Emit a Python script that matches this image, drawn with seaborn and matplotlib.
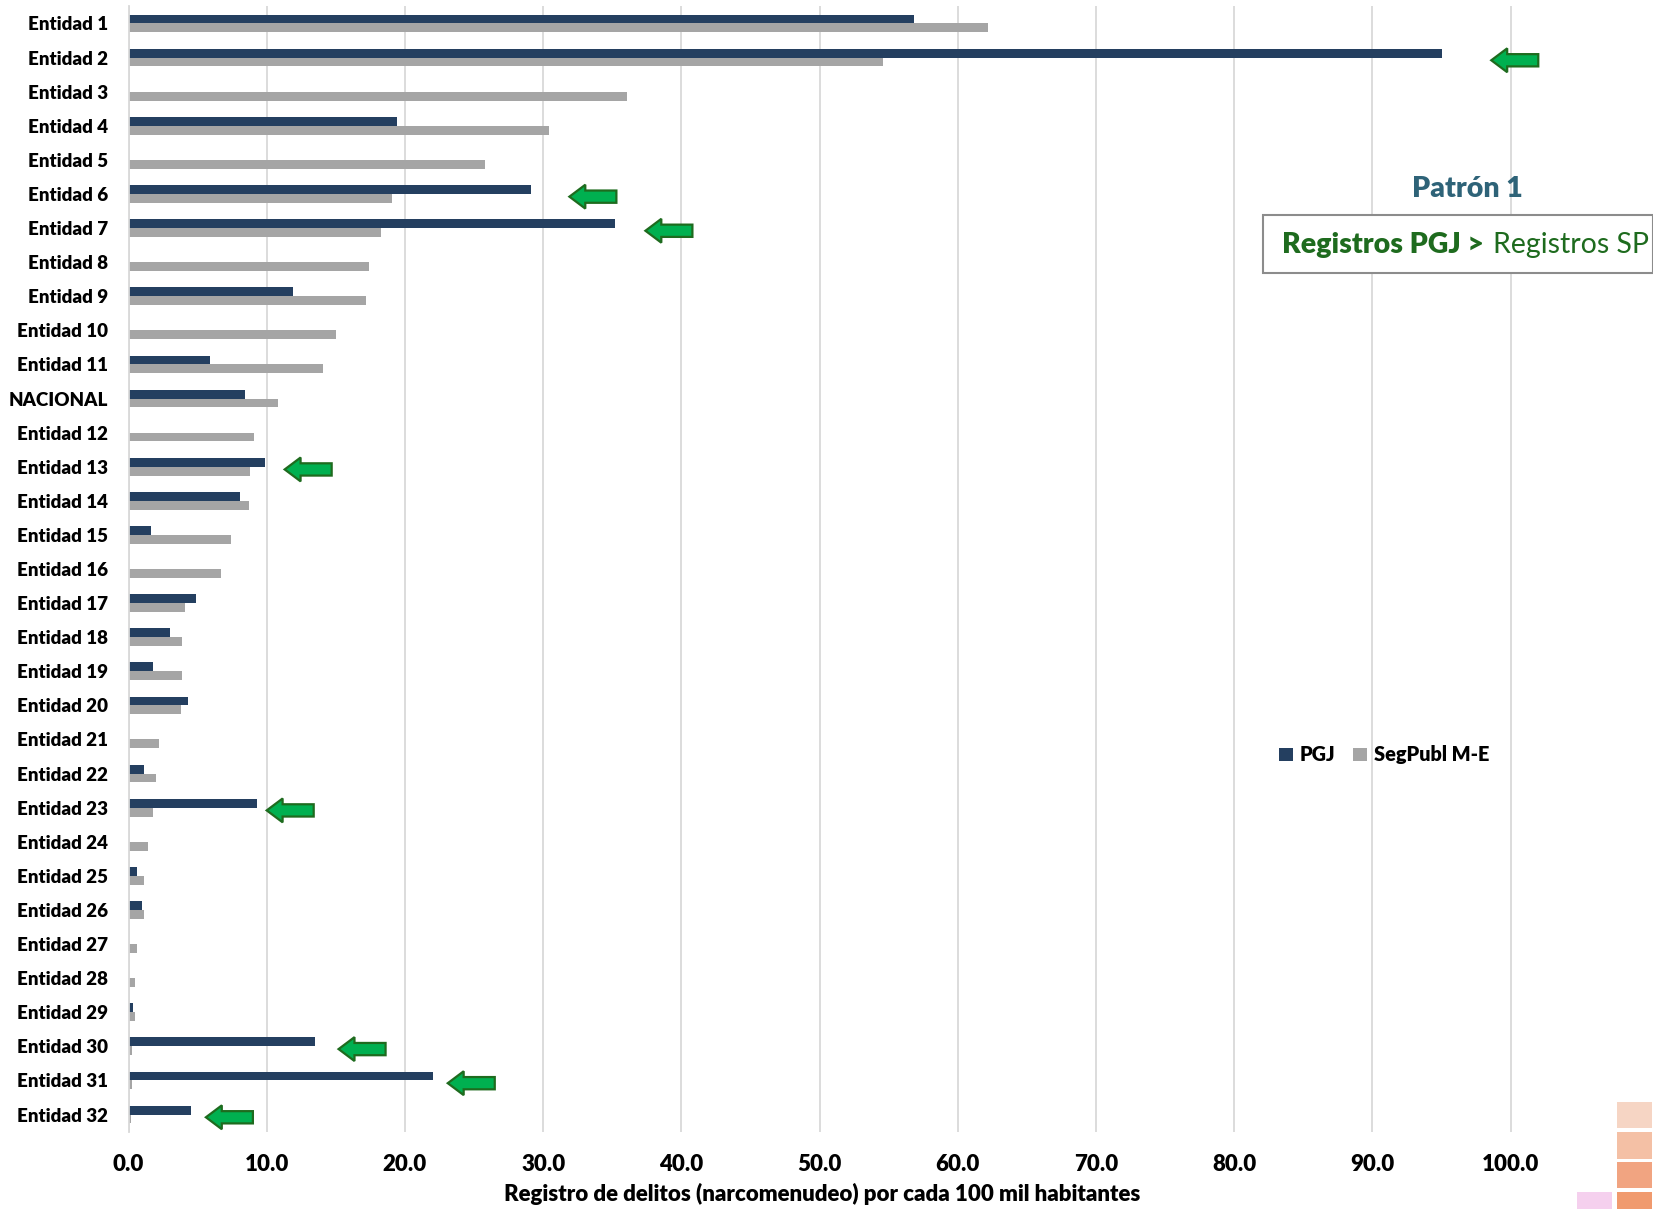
import numpy as np
import pandas as pd
import seaborn as sns
from matplotlib import pyplot as plt
from matplotlib.patches import FancyArrow, Rectangle

# datos
entidades = ['Entidad 1', 'Entidad 2', 'Entidad 3', 'Entidad 4', 'Entidad 5', 'Entidad 6',
             'Entidad 7', 'Entidad 8', 'Entidad 9', 'Entidad 10', 'Entidad 11', 'NACIONAL',
             'Entidad 12', 'Entidad 13', 'Entidad 14', 'Entidad 15', 'Entidad 16', 'Entidad 17',
             'Entidad 18', 'Entidad 19', 'Entidad 20', 'Entidad 21', 'Entidad 22', 'Entidad 23',
             'Entidad 24', 'Entidad 25', 'Entidad 26', 'Entidad 27', 'Entidad 28', 'Entidad 29',
             'Entidad 30', 'Entidad 31', 'Entidad 32']
pgj = [56.8, 95.0, 0.0, 19.4, 0.0, 29.1, 35.2, 0.0, 11.9, 0.0, 5.9, 8.4,
       0.0, 9.9, 8.1, 1.6, 0.0, 4.9, 3.0, 1.8, 4.3, 0.0, 1.1, 9.3,
       0.0, 0.6, 1.0, 0.0, 0.0, 0.3, 13.5, 22.0, 4.5]
segpubl = [62.2, 54.6, 36.1, 30.4, 25.8, 19.1, 18.3, 17.4, 17.2, 15.0, 14.1, 10.8,
           9.1, 8.8, 8.7, 7.4, 6.7, 4.1, 3.9, 3.9, 3.8, 2.2, 2.0, 1.8,
           1.4, 1.1, 1.1, 0.6, 0.5, 0.5, 0.25, 0.25, 0.2]
series = ['PGJ', 'SegPubl M-E']

# flechas (patrón 1): entidad y posición de la punta
flecha_entidad = ['Entidad 2', 'Entidad 6', 'Entidad 7', 'Entidad 13', 'Entidad 23',
                  'Entidad 30', 'Entidad 31', 'Entidad 32']
flecha_punta = [98.6, 31.9, 37.4, 11.3, 10.0, 15.2, 23.1, 5.6]

df = pd.DataFrame({'Entidad': entidades * 2,
                   'Serie': [series[0]] * len(entidades) + [series[1]] * len(entidades),
                   'Valor': pgj + segpubl})

sns.set_theme(style='white')
plt.rcParams['font.family'] = ['Lato', 'DejaVu Sans']
plt.rcParams['text.color'] = '#000000'
plt.rcParams['xtick.color'] = '#000000'
plt.rcParams['ytick.color'] = '#000000'
plt.rcParams['axes.labelcolor'] = '#000000'
peso = 'heavy'

W, H = 1653, 1209
fig = plt.figure(figsize=(W / 100, H / 100), dpi=100)
ax = fig.add_axes([128.5 / W, 1 - 1131.6 / H, 1 - 128.5 / W, (1131.6 - 6.4) / H])

sns.barplot(data=df, y='Entidad', x='Valor', hue='Serie', order=entidades,
            hue_order=series, palette=['#243F60', '#A5A5A5'], width=0.52,
            orient='h', ax=ax, saturation=1, linewidth=0)

ax.set_xlim(0, 110.3)
ax.set_ylim(len(entidades) - 0.5, -0.5)
ax.set_xticks(np.arange(0, 101, 10))
ax.set_xticklabels([f'{v:.1f}' for v in np.arange(0, 101, 10)], fontsize=16, fontweight=peso)
ax.set_yticks(range(len(entidades)))
ax.set_yticklabels(entidades, fontsize=13.5, fontweight=peso)
ax.tick_params(axis='y', length=0, pad=15)
ax.tick_params(axis='x', length=0, pad=16)
ax.xaxis.grid(True, color='#D9D9D9', lw=1.3)
ax.set_axisbelow(True)
for s in ['top', 'right', 'bottom']:
    ax.spines[s].set_visible(False)
ax.spines['left'].set_color('#D9D9D9')
ax.spines['left'].set_linewidth(1.3)
ax.set_ylabel('')
ax.set_xlabel('Registro de delitos (narcomenudeo) por cada 100 mil habitantes',
              fontsize=16, fontweight=peso)
ax.xaxis.set_label_coords(0.455, -0.046)

ax.legend(loc='center', bbox_to_anchor=(0.8236, 0.3347), ncol=2, frameon=False,
          handlelength=0.7, handleheight=0.7, handletextpad=0.35, columnspacing=0.9,
          prop={'weight': peso, 'size': 14.3, 'family': ['Lato', 'DejaVu Sans']})

# flechas verdes
for ent, punta in zip(flecha_entidad, flecha_punta):
    y = entidades.index(ent) + 0.08
    ax.add_patch(FancyArrow(punta + 3.4, y, -3.4, 0, width=0.36, head_width=0.70,
                            head_length=1.15, length_includes_head=True,
                            facecolor='#00B050', edgecolor='#1E6B1E', lw=1.6,
                            zorder=5))

# recuadro de patrón
fig.text(1467 / W, 1 - 189 / H, 'Patrón 1', ha='center', va='center',
         fontsize=20.5, fontweight=peso, color='#2E6378')
fig.add_artist(Rectangle((1263 / W, 1 - 273 / H), (W - 1263) / W, 58 / H,
                         transform=fig.transFigure, facecolor='white',
                         edgecolor='#8C8C8C', lw=1.5))
fig.text(1484 / W, 1 - 245 / H, 'Registros PGJ >', ha='right', va='center',
         fontsize=20.5, fontweight=peso, color='#1E6B1E')
fig.text(1493 / W, 1 - 245 / H, 'Registros SP', ha='left', va='center',
         fontsize=20.5, color='#1E6B1E')

# restos del logo en la esquina
for (x0, y0, x1, y1, c) in [(1617, 1102, 1652, 1128, '#F6D5C4'),
                            (1617, 1132, 1652, 1159, '#F4C0A5'),
                            (1617, 1162, 1652, 1188, '#F1A481'),
                            (1617, 1192, 1652, 1209, '#F09A6E'),
                            (1577, 1192, 1612, 1209, '#F5D0EE')]:
    fig.add_artist(Rectangle((x0 / W, 1 - y1 / H), (x1 - x0) / W, (y1 - y0) / H,
                             transform=fig.transFigure, facecolor=c, edgecolor='none'))

fig.savefig('out.png', dpi=100)
